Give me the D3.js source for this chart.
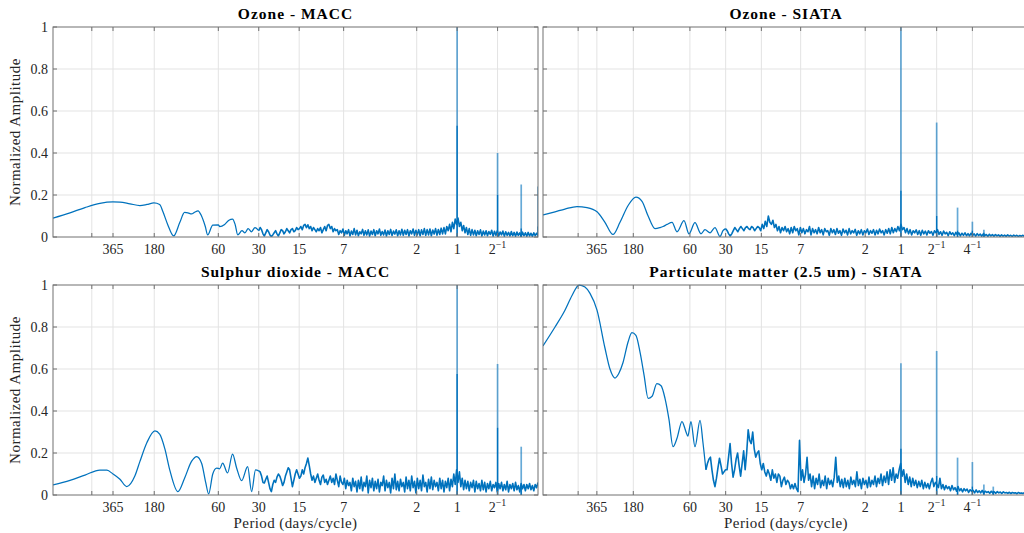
<!DOCTYPE html>
<html>
<head>
<meta charset="utf-8">
<script src="https://cdn.jsdelivr.net/npm/d3@7"></script>
<style>
  body { margin: 0; background: #fff; }
</style>
</head>
<body>
<svg id="chart" width="1024" height="533" font-family="'Liberation Serif', 'DejaVu Serif', serif"></svg>
<script>
// x axis ticks, given as period (days/cycle)
var periodTicks = [525, 365, 180, 60, 30, 15, 7, 2, 1, 0.5, 0.25];
var periodTickLabels = ["", "365", "180", "60", "30", "15", "7", "2", "1", "2^-1", "4^-1"];
var ampTicks = [0, 0.2, 0.4, 0.6, 0.8, 1];

// ---- Ozone - MACC ----
var o3MaccPeriod = [1021, 763, 590, 457, 365, 324, 273, 230, 204, 181, 164, 155, 143, 129, 116, 107, 101, 95, 90, 85, 80, 75, 72, 66, 60, 58.6, 53.8, 50, 47, 45, 43, 40, 38, 36, 34, 32];
var o3MaccAmp = [0.09, 0.115, 0.14, 0.16, 0.167, 0.166, 0.158, 0.15, 0.155, 0.162, 0.155, 0.12, 0.06, 0.005, 0.07, 0.117, 0.115, 0.11, 0.118, 0.125, 0.1, 0.05, 0.01, 0.057, 0.058, 0.05, 0.06, 0.08, 0.085, 0.06, 0.01, 0.03, 0.02, 0.04, 0.025, 0.045];
var o3MaccNoiseFrom = 30;
var o3MaccNoise = [
  0.03, 0.045, 0.035, 0.015, 0.005, 0.02, 0.035, 0.025, 0.01, 0.002,
  0.01, 0.02, 0.03, 0.015, 0.005, 0.02, 0.035, 0.03, 0.015, 0.025,
  0.04, 0.03, 0.02, 0.035, 0.04, 0.025, 0.03, 0.045, 0.035, 0.04,
  0.05, 0.035, 0.055, 0.06, 0.045, 0.058, 0.04, 0.05, 0.03, 0.045,
  0.035, 0.025, 0.04, 0.03, 0.045, 0.02, 0.035, 0.05, 0.03, 0.055,
  0.06, 0.04, 0.05, 0.025, 0.04, 0.03, 0.035, 0.012, 0.03, 0.02,
  0.038, 0.008, 0.03, 0.015, 0.035, 0.005, 0.028, 0.012, 0.04, 0.01,
  0.032, 0.006, 0.025, 0.015, 0.036, 0.008, 0.03, 0.01, 0.034, 0.004,
  0.028, 0.012, 0.035, 0.006, 0.03, 0.015, 0.038, 0.008, 0.026, 0.01,
  0.033, 0.005, 0.03, 0.012, 0.036, 0.007, 0.028, 0.014, 0.034, 0.006,
  0.03, 0.01, 0.037, 0.008, 0.032, 0.012, 0.035, 0.005, 0.03, 0.015,
  0.038, 0.008, 0.032, 0.01, 0.035, 0.006, 0.034, 0.012, 0.04, 0.008,
  0.035, 0.01, 0.038, 0.006, 0.033, 0.014, 0.04, 0.009, 0.036, 0.012,
  0.042, 0.015, 0.045, 0.015, 0.05, 0.03, 0.06, 0.025, 0.07, 0.04,
  0.085, 0.06, 0.09, 0.05, 0.07, 0.03, 0.055, 0.02, 0.045, 0.012,
  0.04, 0.008, 0.035, 0.01, 0.032, 0.006, 0.03, 0.012, 0.034, 0.005,
  0.028, 0.01, 0.03, 0.006, 0.026, 0.012, 0.032, 0.004, 0.027, 0.008,
  0.03, 0.005, 0.024, 0.01, 0.028, 0.004, 0.025, 0.008, 0.022, 0.005,
  0.026, 0.006, 0.022, 0.004, 0.024, 0.008, 0.02, 0.003, 0.023, 0.006,
  0.02, 0.004, 0.022, 0.005, 0.018, 0.003, 0.02, 0.006, 0.018, 0.01
];
var o3MaccSpikeFreq = [1, 2, 3, 4];
var o3MaccSpikePeak = [1, 0.40, 0.25, 0.24];
var o3MaccSpikeInner = [0.53, 0.20, 0.04, 0.05];

// ---- Ozone - SIATA ----
var o3SiataPeriod = [1038, 822, 678, 537, 442, 364, 312, 267, 233, 199, 171, 152, 135, 118, 107, 101, 93.6, 84.9, 77.1, 67.3, 61.1, 54.4, 48.4, 44.8, 40.6, 36.9, 33.5, 31.6];
var o3SiataAmp = [0.105, 0.12, 0.133, 0.145, 0.14, 0.12, 0.07, 0.012, 0.07, 0.15, 0.19, 0.17, 0.1, 0.04, 0.045, 0.05, 0.06, 0.07, 0.025, 0.078, 0.015, 0.068, 0.015, 0.035, 0.02, 0.045, 0.002, 0.03];
var o3SiataNoiseFrom = 30;
var o3SiataNoise = [
  0.04, 0.03, 0.015, 0.005, 0.015, 0.03, 0.045, 0.035, 0.025, 0.04,
  0.05, 0.04, 0.03, 0.045, 0.05, 0.04, 0.035, 0.05, 0.045, 0.03,
  0.04, 0.05, 0.045, 0.03, 0.06, 0.04, 0.075, 0.05, 0.1, 0.07,
  0.06, 0.08, 0.045, 0.06, 0.03, 0.05, 0.02, 0.045, 0.03, 0.05,
  0.025, 0.04, 0.015, 0.045, 0.02, 0.05, 0.03, 0.04, 0.01, 0.045,
  0.02, 0.04, 0.015, 0.035, 0.025, 0.05, 0.01, 0.04, 0.02, 0.035,
  0.015, 0.045, 0.02, 0.035, 0.01, 0.04, 0.025, 0.03, 0.008, 0.04,
  0.02, 0.035, 0.012, 0.04, 0.018, 0.03, 0.008, 0.038, 0.02, 0.032,
  0.01, 0.04, 0.015, 0.03, 0.02, 0.036, 0.008, 0.03, 0.015, 0.035,
  0.01, 0.03, 0.02, 0.038, 0.012, 0.03, 0.018, 0.035, 0.01, 0.032,
  0.015, 0.038, 0.02, 0.03, 0.01, 0.035, 0.018, 0.04, 0.015, 0.045,
  0.02, 0.04, 0.025, 0.05, 0.03, 0.06, 0.035, 0.045, 0.02, 0.04,
  0.015, 0.035, 0.01, 0.03, 0.02, 0.034, 0.012, 0.03, 0.008, 0.032,
  0.015, 0.028, 0.01, 0.03, 0.018, 0.026, 0.008, 0.03, 0.02, 0.035,
  0.012, 0.025, 0.008, 0.028, 0.015, 0.022, 0.006, 0.025, 0.012, 0.02,
  0.006, 0.022, 0.01, 0.02, 0.005, 0.018, 0.008, 0.02, 0.006, 0.016,
  0.005, 0.018, 0.008, 0.015, 0.004, 0.016, 0.007, 0.014, 0.004, 0.015,
  0.006, 0.012, 0.003, 0.013, 0.005, 0.011, 0.004, 0.012, 0.005, 0.01,
  0.003, 0.01, 0.004, 0.009, 0.003, 0.01, 0.004, 0.008, 0.003, 0.009,
  0.004, 0.008, 0.003, 0.007, 0.004, 0.008, 0.003, 0.007, 0.004, 0.006
];
var o3SiataSpikeFreq = [1, 2, 3, 4, 5];
var o3SiataSpikePeak = [1, 0.545, 0.14, 0.073, 0.035];
var o3SiataSpikeInner = [0.22, 0.10, 0.03, 0.03, 0.02];

// ---- Sulphur dioxide - MACC ----
var so2MaccPeriod = [1021, 763, 590, 457, 405, 365, 324, 288, 251, 230, 204, 178, 164, 150, 138, 120, 107, 95, 86.9, 79.8, 74.5, 70.8, 66, 61.7, 58.6, 55.7, 51.2, 47, 43.9, 40.2, 36.3, 33.9, 31.7];
var so2MaccAmp = [0.048, 0.07, 0.095, 0.119, 0.118, 0.1, 0.075, 0.04, 0.09, 0.16, 0.25, 0.305, 0.29, 0.22, 0.12, 0.016, 0.08, 0.16, 0.183, 0.15, 0.06, 0.005, 0.1, 0.128, 0.125, 0.152, 0.105, 0.195, 0.13, 0.068, 0.135, 0.016, 0.12];
var so2MaccNoiseFrom = 30;
var so2MaccNoise = [
  0.115, 0.11, 0.09, 0.06, 0.057, 0.075, 0.09, 0.06, 0.03, 0.016,
  0.05, 0.07, 0.06, 0.085, 0.1, 0.09, 0.07, 0.045, 0.06, 0.09,
  0.11, 0.13, 0.12, 0.08, 0.04, 0.07, 0.1, 0.12, 0.1, 0.08,
  0.09, 0.12, 0.1, 0.13, 0.15, 0.176, 0.14, 0.1, 0.07, 0.09,
  0.06, 0.08, 0.1, 0.07, 0.05, 0.085, 0.095, 0.06, 0.075, 0.05,
  0.07, 0.09, 0.06, 0.08, 0.05, 0.1, 0.07, 0.04, 0.09, 0.06,
  0.05, 0.08, 0.03, 0.07, 0.045, 0.06, 0.02, 0.08, 0.04, 0.065,
  0.015, 0.07, 0.03, 0.085, 0.02, 0.06, 0.04, 0.09, 0.01, 0.07,
  0.035, 0.08, 0.02, 0.065, 0.03, 0.075, 0.015, 0.06, 0.045, 0.09,
  0.02, 0.07, 0.035, 0.06, 0.01, 0.08, 0.03, 0.1, 0.025, 0.065,
  0.02, 0.075, 0.04, 0.06, 0.015, 0.085, 0.03, 0.07, 0.02, 0.09,
  0.035, 0.065, 0.01, 0.08, 0.03, 0.07, 0.02, 0.095, 0.04, 0.06,
  0.015, 0.075, 0.03, 0.085, 0.025, 0.07, 0.04, 0.06, 0.02, 0.08,
  0.03, 0.07, 0.015, 0.065, 0.035, 0.08, 0.02, 0.075, 0.04, 0.1,
  0.05, 0.12, 0.06, 0.11, 0.04, 0.08, 0.025, 0.07, 0.03, 0.065,
  0.02, 0.06, 0.035, 0.07, 0.015, 0.065, 0.03, 0.055, 0.02, 0.07,
  0.025, 0.06, 0.015, 0.055, 0.03, 0.065, 0.02, 0.05, 0.035, 0.06,
  0.015, 0.055, 0.03, 0.06, 0.02, 0.05, 0.025, 0.065, 0.015, 0.05,
  0.03, 0.055, 0.02, 0.06, 0.025, 0.045, 0.015, 0.055, 0.03, 0.05,
  0.02, 0.05, 0.03, 0.055, 0.025, 0.045, 0.02, 0.05, 0.035, 0.06
];
var so2MaccSpikeFreq = [1, 2, 3];
var so2MaccSpikePeak = [1, 0.624, 0.23];
var so2MaccSpikeInner = [0.576, 0.32, 0.05];

// ---- Particulate matter (2.5 um) - SIATA ----
var pmSiataPeriod = [1038, 822, 678, 591, 516, 460, 417, 364, 312, 283, 257, 238, 220, 199, 185, 171, 158, 146, 135, 125, 114, 105, 97.3, 90.1, 83.3, 77.1, 70, 64.7, 62.5, 58.8, 54.4, 49.3, 46.6];
var pmSiataAmp = [0.71, 0.8, 0.88, 0.95, 1, 0.99, 0.96, 0.88, 0.7, 0.6, 0.557, 0.58, 0.63, 0.73, 0.773, 0.76, 0.68, 0.57, 0.46, 0.47, 0.53, 0.52, 0.46, 0.36, 0.23, 0.27, 0.35, 0.3, 0.28, 0.35, 0.23, 0.355, 0.25];
var pmSiataNoiseFrom = 44;
var pmSiataNoise = [
  0.12, 0.15, 0.17, 0.18, 0.12, 0.07, 0.04, 0.08, 0.13, 0.175,
  0.14, 0.1, 0.11, 0.12, 0.12, 0.18, 0.245, 0.15, 0.085, 0.12,
  0.17, 0.2, 0.14, 0.09, 0.15, 0.21, 0.12, 0.2, 0.31, 0.26,
  0.245, 0.3, 0.22, 0.18, 0.2, 0.21, 0.15, 0.12, 0.15, 0.11,
  0.09, 0.12, 0.1, 0.07, 0.12, 0.08, 0.1, 0.06, 0.1, 0.09,
  0.04, 0.07, 0.085, 0.05, 0.07, 0.06, 0.03, 0.05, 0.03, 0.055,
  0.03, 0.016, 0.26, 0.07, 0.12, 0.06, 0.1, 0.18, 0.07, 0.1,
  0.04, 0.09, 0.03, 0.08, 0.05, 0.1, 0.035, 0.07, 0.045, 0.09,
  0.03, 0.08, 0.05, 0.07, 0.04, 0.085, 0.18, 0.06, 0.09, 0.04,
  0.075, 0.035, 0.08, 0.04, 0.07, 0.03, 0.085, 0.05, 0.07, 0.04,
  0.11, 0.045, 0.075, 0.03, 0.08, 0.05, 0.07, 0.035, 0.085, 0.04,
  0.07, 0.05, 0.09, 0.04, 0.08, 0.055, 0.1, 0.045, 0.09, 0.06,
  0.11, 0.05, 0.12, 0.07, 0.13, 0.06, 0.1, 0.08, 0.12, 0.15,
  0.09, 0.12, 0.06, 0.1, 0.05, 0.085, 0.04, 0.08, 0.045, 0.07,
  0.035, 0.065, 0.04, 0.07, 0.03, 0.06, 0.035, 0.055, 0.03, 0.06,
  0.08, 0.04, 0.06, 0.05, 0.035, 0.08, 0.03, 0.05, 0.025, 0.045,
  0.03, 0.04, 0.02, 0.045, 0.025, 0.035, 0.018, 0.04, 0.02, 0.03,
  0.015, 0.03, 0.02, 0.028, 0.012, 0.025, 0.018, 0.022, 0.01, 0.024,
  0.012, 0.02, 0.01, 0.022, 0.008, 0.018, 0.012, 0.016, 0.008, 0.018,
  0.01, 0.015, 0.008, 0.016, 0.01, 0.014, 0.007, 0.015, 0.01, 0.012,
  0.008, 0.013, 0.007, 0.012, 0.009, 0.011, 0.006, 0.012, 0.008, 0.01,
  0.007, 0.011, 0.008, 0.01, 0.009
];
var pmSiataSpikeFreq = [1, 2, 3, 4, 5, 6];
var pmSiataSpikePeak = [0.627, 0.686, 0.178, 0.157, 0.05, 0.04];
var pmSiataSpikeInner = [0.22, 0.09, 0.04, 0.04, 0.02, 0.02];

var blue = "#0072BD";
var frameColor = "#707070";
var gridColor = "#e3e3e3";
var textColor = "#262626";
var serif = "'Liberation Serif', 'DejaVu Serif', serif";

var panels = [
  { title: "Ozone - MACC", left: 53, right: 538, top: 27, bottom: 237, fMin: 1 / 1021, fMax: 4,
    period: o3MaccPeriod, amp: o3MaccAmp, noiseFrom: o3MaccNoiseFrom, noise: o3MaccNoise,
    spikeFreq: o3MaccSpikeFreq, spikePeak: o3MaccSpikePeak, spikeInner: o3MaccSpikeInner,
    yLabels: true, xTitle: false },
  { title: "Ozone - SIATA", left: 543, right: 1029, top: 27, bottom: 237, fMin: 1 / 1038, fMax: 12,
    period: o3SiataPeriod, amp: o3SiataAmp, noiseFrom: o3SiataNoiseFrom, noise: o3SiataNoise,
    spikeFreq: o3SiataSpikeFreq, spikePeak: o3SiataSpikePeak, spikeInner: o3SiataSpikeInner,
    yLabels: false, xTitle: false },
  { title: "Sulphur dioxide - MACC", left: 53, right: 538, top: 285, bottom: 495, fMin: 1 / 1021, fMax: 4,
    period: so2MaccPeriod, amp: so2MaccAmp, noiseFrom: so2MaccNoiseFrom, noise: so2MaccNoise,
    spikeFreq: so2MaccSpikeFreq, spikePeak: so2MaccSpikePeak, spikeInner: so2MaccSpikeInner,
    yLabels: true, xTitle: true },
  { title: "Particulate matter (2.5 um) - SIATA", left: 543, right: 1029, top: 285, bottom: 495, fMin: 1 / 1038, fMax: 12,
    period: pmSiataPeriod, amp: pmSiataAmp, noiseFrom: pmSiataNoiseFrom, noise: pmSiataNoise,
    spikeFreq: pmSiataSpikeFreq, spikePeak: pmSiataSpikePeak, spikeInner: pmSiataSpikeInner,
    yLabels: false, xTitle: true }
];

var svg = d3.select("#chart");

panels.forEach(function(p, idx) {
  var x = d3.scaleLog().domain([p.fMin, p.fMax]).range([p.left, p.right]);
  var y = d3.scaleLinear().domain([0, 1]).range([p.bottom, p.top]);
  var w = p.right - p.left, h = p.bottom - p.top;

  var ticks = [];
  periodTicks.forEach(function(per, i) {
    var f = 1 / per;
    if (f > p.fMin && f < p.fMax * 0.999) ticks.push({ f: f, label: periodTickLabels[i] });
  });
  var tickF = ticks.map(function(t) { return t.f; });

  var g = svg.append("g");

  // grid
  g.append("g").selectAll("line").data(tickF).enter().append("line")
    .attr("x1", function(d) { return x(d); }).attr("x2", function(d) { return x(d); })
    .attr("y1", p.top).attr("y2", p.bottom)
    .attr("stroke", gridColor).attr("stroke-width", 1);
  g.append("g").selectAll("line").data(ampTicks.slice(1, -1)).enter().append("line")
    .attr("x1", p.left).attr("x2", p.right)
    .attr("y1", function(d) { return y(d); }).attr("y2", function(d) { return y(d); })
    .attr("stroke", gridColor).attr("stroke-width", 1);

  // data
  var clipId = "clip" + idx;
  svg.append("clipPath").attr("id", clipId).append("rect")
    .attr("x", p.left).attr("y", p.top - 1).attr("width", w).attr("height", h + 1);

  var smooth = p.period.map(function(per, i) { return [1 / per, p.amp[i]]; });
  var f0 = 1 / p.noiseFrom, n = p.noise.length;
  // noise samples sit on a log-spaced frequency grid
  var noisy = p.noise.map(function(a, i) {
    return [f0 * Math.pow(p.fMax / f0, i / (n - 1)), a];
  });
  smooth.push(noisy[0]);

  var xy = function(l) { return l.x(function(d) { return x(d[0]); }).y(function(d) { return y(d[1]); }); };
  var dg = g.append("g").attr("clip-path", "url(#" + clipId + ")");
  dg.append("path").datum(smooth).attr("d", xy(d3.line().curve(d3.curveMonotoneX)))
    .attr("fill", "none").attr("stroke", blue).attr("stroke-width", 1.25);
  dg.append("path").datum(noisy).attr("d", xy(d3.line()))
    .attr("fill", "none").attr("stroke", blue).attr("stroke-width", 1.6).attr("stroke-linejoin", "round");

  dg.selectAll("line.peak").data(p.spikeFreq).enter().append("line").attr("class", "peak")
    .attr("x1", function(d) { return x(d); }).attr("x2", function(d) { return x(d); })
    .attr("y1", y(0)).attr("y2", function(d, i) { return y(p.spikePeak[i]); })
    .attr("stroke", blue).attr("stroke-opacity", 0.6).attr("stroke-width", 1.7);
  dg.selectAll("line.inner").data(p.spikeFreq).enter().append("line").attr("class", "inner")
    .attr("x1", function(d) { return x(d); }).attr("x2", function(d) { return x(d); })
    .attr("y1", y(0)).attr("y2", function(d, i) { return y(p.spikeInner[i]); })
    .attr("stroke", blue).attr("stroke-width", 1.3);

  // ticks (inward on all four sides)
  var tk = g.append("g").attr("stroke", frameColor).attr("stroke-width", 1);
  tickF.forEach(function(f) {
    tk.append("line").attr("x1", x(f)).attr("x2", x(f)).attr("y1", p.bottom).attr("y2", p.bottom - 4);
    tk.append("line").attr("x1", x(f)).attr("x2", x(f)).attr("y1", p.top).attr("y2", p.top + 4);
  });
  ampTicks.forEach(function(a) {
    tk.append("line").attr("x1", p.left).attr("x2", p.left + 4).attr("y1", y(a)).attr("y2", y(a));
    tk.append("line").attr("x1", p.right).attr("x2", p.right - 4).attr("y1", y(a)).attr("y2", y(a));
  });

  // frame
  g.append("rect").attr("x", p.left).attr("y", p.top).attr("width", w).attr("height", h)
    .attr("fill", "none").attr("stroke", frameColor).attr("stroke-width", 1);

  // x tick labels
  var xl = g.append("g").selectAll("text").data(ticks).enter().append("text")
    .attr("x", function(d) { return x(d.f); }).attr("y", p.bottom + 17)
    .attr("text-anchor", "middle").attr("fill", textColor)
    .attr("font-family", serif).attr("font-size", 14);
  xl.each(function(d) {
    var parts = d.label.split("^");
    var t = d3.select(this);
    t.append("tspan").text(parts[0]);
    if (parts.length > 1) {
      t.append("tspan").attr("dy", -6).attr("font-size", 10).text(parts[1].replace("-", "\u2212"));
    }
  });

  // y tick labels
  if (p.yLabels) {
    g.append("g").selectAll("text").data(ampTicks).enter().append("text")
      .attr("x", p.left - 5).attr("y", function(d) { return y(d) + 4.5; })
      .attr("text-anchor", "end").attr("fill", textColor)
      .attr("font-family", serif).attr("font-size", 14)
      .text(function(d) { return d === 0 || d === 1 ? String(d) : d.toFixed(1); });
    g.append("text")
      .attr("transform", "translate(" + (p.left - 33) + "," + (p.top + h / 2) + ") rotate(-90)")
      .attr("text-anchor", "middle").attr("fill", textColor)
      .attr("font-family", serif).attr("font-size", 15)
      .attr("letter-spacing", 0.5)
      .text("Normalized Amplitude");
  }

  // title
  g.append("text").attr("x", (p.left + p.right) / 2).attr("y", p.top - 8)
    .attr("text-anchor", "middle").attr("fill", "#000")
    .attr("font-family", serif).attr("font-size", 15.5)
    .attr("font-weight", "bold").attr("letter-spacing", 1)
    .text(p.title);

  if (p.xTitle) {
    g.append("text").attr("x", (p.left + p.right) / 2).attr("y", p.bottom + 33)
      .attr("text-anchor", "middle").attr("fill", textColor)
      .attr("font-family", serif).attr("font-size", 15)
      .attr("letter-spacing", 0.4)
      .text("Period (days/cycle)");
  }
});
</script>
</body>
</html>
